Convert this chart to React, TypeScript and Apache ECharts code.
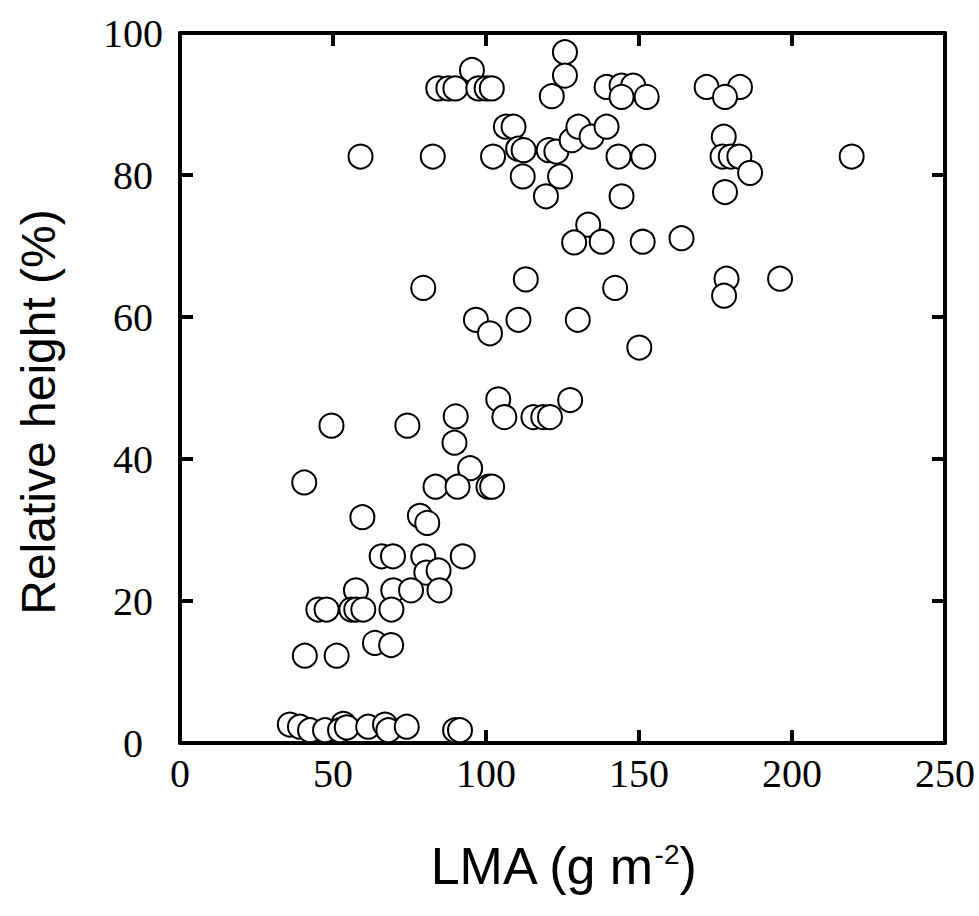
import React, { useEffect, useRef } from "react";
import * as echarts from "echarts";

const xTicks = [0, 50, 100, 150, 200, 250];
const yTicks = [0, 20, 40, 60, 80, 100];

// LMA (g m-2)
const lma = [
  95.4, 84.4, 87.7, 90.0, 97.5, 100.2, 101.9, 125.8, 125.8, 121.5,
  139.4, 144.3, 148.1, 144.3, 152.5, 172.1, 183.0, 178.1,
  59.0, 82.6, 102.3, 106.5, 109.0, 110.5, 112.3, 120.5, 123.0,
  128.0, 130.2, 134.5, 139.4, 143.3, 151.4, 177.7, 177.3, 180.0, 182.8, 219.5,
  112.0, 124.2, 119.6, 144.3, 186.3, 178.1,
  133.4, 128.8, 137.8, 151.2, 163.9,
  79.5, 113.0, 142.2, 178.6, 177.8, 196.1,
  96.7, 101.3, 110.6, 130.0, 150.1,
  104.0, 127.5, 106.0, 115.5, 118.7, 120.9, 49.5, 74.3, 90.1, 89.7,
  94.8, 40.6, 83.5, 90.7, 100.8, 102.0,
  59.6, 78.4, 80.8,
  65.9, 69.6, 79.5, 92.4,
  80.5, 84.5,
  57.5, 69.7, 75.5, 84.8,
  45.2, 47.9, 56.0, 57.6, 59.9, 69.1,
  63.7, 69.0,
  40.8, 51.2,
  35.9, 39.2, 42.5, 47.4, 53.4, 52.3, 54.5, 61.5, 67.0, 68.1, 74.1, 89.9, 91.5,
];

// Relative height (%)
const relHeight = [
  94.8, 92.2, 92.2, 92.2, 92.2, 92.2, 92.2, 97.3, 94.0, 91.1,
  92.4, 92.6, 92.6, 91.0, 91.0, 92.4, 92.4, 91.0,
  82.6, 82.6, 82.6, 86.8, 86.8, 83.7, 83.5, 83.5, 83.3,
  84.9, 86.8, 85.4, 86.8, 82.6, 82.6, 85.4, 82.6, 82.6, 82.6, 82.6,
  79.8, 79.8, 77.0, 77.0, 80.3, 77.6,
  73.0, 70.5, 70.6, 70.6, 71.1,
  64.1, 65.3, 64.1, 65.4, 63.0, 65.4,
  59.6, 57.7, 59.6, 59.6, 55.7,
  48.4, 48.3, 45.9, 45.9, 45.9, 45.9, 44.7, 44.7, 46.0, 42.3,
  38.7, 36.7, 36.1, 36.1, 36.1, 36.1,
  31.8, 32.0, 31.0,
  26.3, 26.3, 26.3, 26.3,
  24.0, 24.3,
  21.5, 21.5, 21.5, 21.5,
  18.8, 18.8, 18.8, 18.8, 18.8, 18.8,
  14.1, 13.8,
  12.3, 12.3,
  2.6, 2.3, 1.8, 1.8, 2.7, 1.8, 2.2, 2.3, 2.6, 1.8, 2.3, 1.8, 1.8,
];

const xTitle = "LMA (g m";
const xTitleSup = "-2";
const yTitle = "Relative height (%)";

export default function App() {
  const ref = useRef<HTMLDivElement>(null);
  useEffect(() => {
    if (!ref.current) return;
    const chart = echarts.init(ref.current, null, { renderer: "svg" });
    const data = lma.map((x, i) => [x, relHeight[i]]);
    const serif = "'Liberation Serif', 'Times New Roman', serif";
    const sans = "'Liberation Sans', Arial, sans-serif";
    const axisBase = {
      type: "value" as const,
      axisLine: { show: true, onZero: false, lineStyle: { color: "#000", width: 4 } },
      axisTick: { show: true, inside: true, length: 13, lineStyle: { color: "#000", width: 4 } },
      splitLine: { show: false },
    };
    chart.setOption({
      animation: false,
      backgroundColor: "#fff",
      grid: { left: 180, top: 33, right: 34, bottom: 173, containLabel: false },
      xAxis: [
        {
          ...axisBase,
          position: "bottom",
          min: xTicks[0],
          max: xTicks[xTicks.length - 1],
          interval: 50,
          axisLabel: {
            show: true,
            margin: 10,
            color: "#000",
            fontFamily: serif,
            fontSize: 40,
            formatter: (v: number) => String(v),
          },
        },
        {
          ...axisBase,
          position: "top",
          min: xTicks[0],
          max: xTicks[xTicks.length - 1],
          interval: 50,
          axisLabel: { show: false },
        },
      ],
      yAxis: [
        {
          ...axisBase,
          position: "left",
          min: yTicks[0],
          max: yTicks[yTicks.length - 1],
          interval: 20,
          axisLabel: {
            show: true,
            margin: 47,
            align: "center",
            color: "#000",
            fontFamily: serif,
            fontSize: 40,
            formatter: (v: number) => String(v),
          },
        },
        {
          ...axisBase,
          position: "right",
          min: yTicks[0],
          max: yTicks[yTicks.length - 1],
          interval: 20,
          axisLabel: { show: false },
        },
      ],
      series: [
        {
          type: "scatter",
          xAxisIndex: 0,
          yAxisIndex: 0,
          data,
          symbol: "circle",
          symbolSize: 24,
          clip: false,
          itemStyle: { color: "#fff", borderColor: "#000", borderWidth: 2, opacity: 1 },
          emphasis: { disabled: true },
        },
      ],
      graphic: [
        {
          type: "text",
          x: 38,
          y: 412,
          rotation: Math.PI / 2,
          style: {
            text: yTitle,
            font: `48px ${sans}`,
            fill: "#000",
            align: "center",
            verticalAlign: "middle",
          },
        },
        {
          type: "text",
          x: 563,
          y: 866,
          style: {
            text: `{a|${xTitle}}{s|${xTitleSup}}{a|)}`,
            align: "center",
            verticalAlign: "middle",
            rich: {
              a: { fontFamily: sans, fontSize: 52, fill: "#000", color: "#000" },
              s: { fontFamily: sans, fontSize: 28, fill: "#000", color: "#000", verticalAlign: "top", padding: [0, 0, 22, 0] },
            },
          },
        },
      ],
    });
    return () => chart.dispose();
  }, []);
  return (
    <div
      ref={ref}
      style={{ position: "fixed", left: 0, top: 0, width: 979, height: 916 }}
    />
  );
}
